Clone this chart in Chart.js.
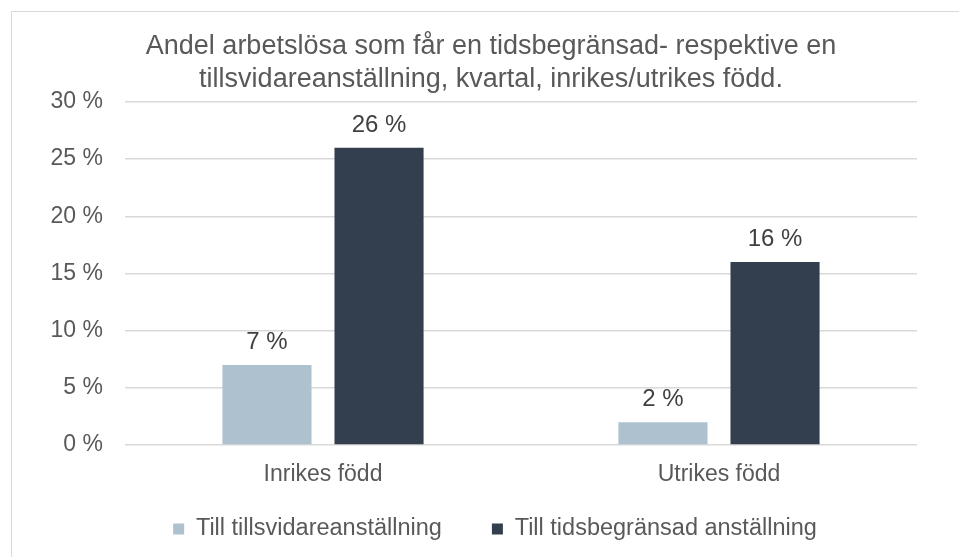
<!DOCTYPE html>
<html>
<head>
<meta charset="utf-8">
<script src="https://cdn.jsdelivr.net/npm/chart.js@4"></script>
<style>
    body { margin: 0; background: #fff; }
    #wrap { position: relative; width: 959px; height: 557px; overflow: hidden; }
    #frame { position: absolute; left: 11px; top: 11px; width: 1000px; height: 600px; border: 1px solid #d9d9d9; }
    #chart { position: absolute; left: 0; top: 0; }
</style>
</head>
<body>
<div id="wrap">
    <div id="frame"></div>
    <canvas id="chart" width="959" height="557"></canvas>
</div>
<script>
// Data
const categories = ['Inrikes född', 'Utrikes född'];
const seriesNames = ['Till tillsvidareanställning', 'Till tidsbegränsad anställning'];
const permanent = [7, 2];
const temporary = [26, 16];
const yTicks = [0, 5, 10, 15, 20, 25, 30];
const titleLines = [
    'Andel arbetslösa som får en tidsbegränsad- respektive en',
    'tillsvidareanställning, kvartal, inrikes/utrikes född.'
];

const textGray = '#595959';
const fontFamily = '"Liberation Sans", Arial, sans-serif';
Chart.defaults.font.family = fontFamily;
Chart.defaults.color = textGray;

const legendPad = 50;
const legendFont = 23.5;

// Value labels above bars
const barLabels = {
    id: 'barLabels',
    afterDatasetsDraw(chart) {
        const ctx = chart.ctx;
        ctx.save();
        ctx.font = '24px ' + fontFamily;
        ctx.fillStyle = '#404040';
        ctx.textAlign = 'center';
        ctx.textBaseline = 'alphabetic';
        chart.data.datasets.forEach((ds, i) => {
            chart.getDatasetMeta(i).data.forEach((bar, j) => {
                ctx.fillText(ds.data[j] + ' %', bar.x, bar.y - 16);
            });
        });
        ctx.restore();
    }
};

// Nudge title and legend to where the original puts them
const placeBoxes = {
    id: 'placeBoxes',
    afterLayout(chart) {
        const t = chart.titleBlock;
        t.left += 32.5;
        t.right += 32.5;
        const lg = chart.legend;
        lg.top = 529 - legendPad - legendFont / 2;
        lg.bottom = chart.height;
        lg.height = lg.bottom - lg.top;
        lg.left += 36.5;
        lg.right += 36.5;
    }
};

const ctx = document.getElementById('chart').getContext('2d');
const chart = new Chart(ctx, {
    type: 'bar',
    data: {
        labels: categories,
        datasets: [
            {
                label: seriesNames[0],
                data: permanent,
                backgroundColor: '#adc1ce',
                categoryPercentage: 0.566,
                barPercentage: 0.795,
            },
            {
                label: seriesNames[1],
                data: temporary,
                backgroundColor: '#333f4e',
                categoryPercentage: 0.566,
                barPercentage: 0.795,
            },
        ],
    },
    options: {
        responsive: false,
        animation: false,
        layout: { padding: { left: 0, right: 42, top: 0, bottom: 38 } },
        plugins: {
            title: {
                display: true,
                text: titleLines,
                color: textGray,
                font: { size: 27, weight: 'normal', lineHeight: 1.22 },
                padding: { top: 30, bottom: 6 },
            },
            legend: {
                position: 'bottom',
                maxHeight: 30,
                labels: {
                    boxWidth: 11,
                    boxHeight: 11,
                    padding: legendPad,
                    color: textGray,
                    font: { size: legendFont },
                },
            },
            tooltip: { enabled: false },
        },
        scales: {
            x: {
                afterFit: (s) => { s.height = 44; },
                grid: { display: false },
                border: { display: false },
                ticks: { color: textGray, font: { size: 23 }, padding: 8 },
            },
            y: {
                min: 0,
                max: 30,
                afterBuildTicks: (s) => { s.ticks = yTicks.map(v => ({ value: v })); },
                afterFit: (s) => { s.width = 125; },
                grid: { color: '#d9d9d9', lineWidth: 1.5, drawTicks: false },
                border: { display: false },
                ticks: {
                    color: textGray,
                    font: { size: 23 },
                    padding: 22,
                    callback: (v) => v + ' %',
                },
            },
        },
    },
    plugins: [barLabels, placeBoxes],
});
</script>
</body>
</html>
